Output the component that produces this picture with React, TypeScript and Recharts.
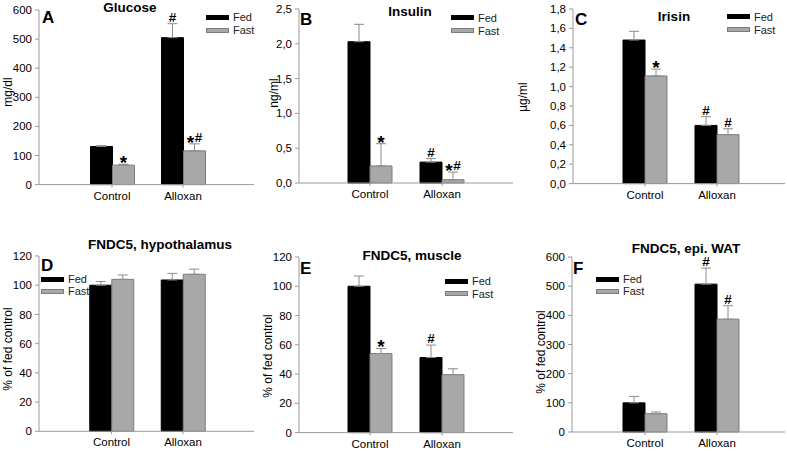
import React from 'react';
import { BarChart, Bar, XAxis, YAxis, ErrorBar, LabelList } from 'recharts';

const groups = ['Control', 'Alloxan'];

// A - glucose (mg/dl)
const glucoseFed = [131, 505];
const glucoseFedErr = [3, 48];
const glucoseFast = [67, 116];
const glucoseFastErr = [3, 24];
const glucoseFedMarks = ['', '#'];
const glucoseFastMarks = ['*', '*#'];
const glucoseTicks = [0, 100, 200, 300, 400, 500, 600];

// B - insulin (ng/ml)
const insulinFed = [2.03, 0.3];
const insulinFedErr = [0.25, 0.05];
const insulinFast = [0.245, 0.047];
const insulinFastErr = [0.32, 0.11];
const insulinFedMarks = ['', '#'];
const insulinFastMarks = ['*', '*#'];
const insulinTicks = [0, 0.5, 1, 1.5, 2, 2.5];

// C - irisin (µg/ml)
const irisinFed = [1.48, 0.6];
const irisinFedErr = [0.09, 0.09];
const irisinFast = [1.11, 0.505];
const irisinFastErr = [0.07, 0.06];
const irisinFedMarks = ['', '#'];
const irisinFastMarks = ['*', '#'];
const irisinTicks = [0, 0.2, 0.4, 0.6, 0.8, 1, 1.2, 1.4, 1.6, 1.8];

// D - FNDC5 hypothalamus (% of fed control)
const hypoFed = [100, 103.6];
const hypoFedErr = [2.5, 4.5];
const hypoFast = [104, 107.5];
const hypoFastErr = [3, 3.5];
const hypoFedMarks = ['', ''];
const hypoFastMarks = ['', ''];

// E - FNDC5 muscle
const muscleFed = [100, 51.3];
const muscleFedErr = [7, 8.5];
const muscleFast = [54, 39.6];
const muscleFastErr = [3.5, 4];
const muscleFedMarks = ['', '#'];
const muscleFastMarks = ['*', ''];
const pctTicks = [0, 20, 40, 60, 80, 100, 120];

// F - FNDC5 epi. WAT
const watFed = [100, 507];
const watFedErr = [22, 55];
const watFast = [62.7, 387];
const watFastErr = [6, 46];
const watFedMarks = ['', '#'];
const watFastMarks = ['', '#'];

const FONT = 'Arial, "Liberation Sans", Helvetica, sans-serif';
const AXIS = '#9a9a9a';
const FAST_FILL = '#a8a8a8';
const FAST_STROKE = '#7c7c7c';

const panels = [
  {
    letter: 'A', title: 'Glucose', unit: 'mg/dl',
    fed: glucoseFed, fedErr: glucoseFedErr, fast: glucoseFast, fastErr: glucoseFastErr,
    fedMarks: glucoseFedMarks, fastMarks: glucoseFastMarks, ticks: glucoseTicks, decimals: 0,
    axisX: 39, top: 9.7, bottom: 184.3, w: 215, c1: 73, c2: 144,
    titleAt: [130, 7], letterAt: [42, 9], unitAt: [7.5, 92], legendAt: [206, 17, 30],
  },
  {
    letter: 'B', title: 'Insulin', unit: 'ng/ml',
    fed: insulinFed, fedErr: insulinFedErr, fast: insulinFast, fastErr: insulinFastErr,
    fedMarks: insulinFedMarks, fastMarks: insulinFastMarks, ticks: insulinTicks, decimals: 1,
    axisX: 299, top: 9.3, bottom: 183.3, w: 214, c1: 71, c2: 143,
    titleAt: [410, 11], letterAt: [300, 11], unitAt: [273.5, 93], legendAt: [451, 17.5, 30.5],
  },
  {
    letter: 'C', title: 'Irisin', unit: 'µg/ml',
    fed: irisinFed, fedErr: irisinFedErr, fast: irisinFast, fastErr: irisinFastErr,
    fedMarks: irisinFedMarks, fastMarks: irisinFastMarks, ticks: irisinTicks, decimals: 1,
    axisX: 573, top: 8.7, bottom: 183.3, w: 212, c1: 72, c2: 144,
    titleAt: [674, 16], letterAt: [575, 11], unitAt: [523, 97], legendAt: [727, 16.5, 29.5],
  },
  {
    letter: 'D', title: 'FNDC5, hypothalamus', unit: '% of fed control',
    fed: hypoFed, fedErr: hypoFedErr, fast: hypoFast, fastErr: hypoFastErr,
    fedMarks: hypoFedMarks, fastMarks: hypoFastMarks, ticks: pctTicks, decimals: 0,
    axisX: 39, top: 256, bottom: 431.3, w: 215, c1: 72.5, c2: 144,
    titleAt: [160, 244], letterAt: [41, 257], unitAt: [7.5, 349], legendAt: [41, 279, 291],
  },
  {
    letter: 'E', title: 'FNDC5, muscle', unit: '% of fed control',
    fed: muscleFed, fedErr: muscleFedErr, fast: muscleFast, fastErr: muscleFastErr,
    fedMarks: muscleFedMarks, fastMarks: muscleFastMarks, ticks: pctTicks, decimals: 0,
    axisX: 299, top: 256.7, bottom: 432.3, w: 214, c1: 71, c2: 143,
    titleAt: [412, 255], letterAt: [300, 260], unitAt: [268, 356], legendAt: [445, 281, 293.5],
  },
  {
    letter: 'F', title: 'FNDC5, epi. WAT', unit: '% of fed control',
    fed: watFed, fedErr: watFedErr, fast: watFast, fastErr: watFastErr,
    fedMarks: watFedMarks, fastMarks: watFastMarks, ticks: glucoseTicks, decimals: 0,
    axisX: 572, top: 257.3, bottom: 432.3, w: 213, c1: 73, c2: 145,
    titleAt: [686, 247.5], letterAt: [573, 260], unitAt: [541, 352], legendAt: [596, 279, 291],
  },
];

const markRenderer = (marks: string[], values: number[], errs: number[]) => (props: any) => {
  const vb = props.viewBox && props.viewBox.width !== undefined ? props.viewBox : props;
  const { x, y, width, height } = vb;
  const i = props.index;
  const m = marks[i];
  if (!m) return null;
  const errPx = (Math.abs(height) * errs[i]) / values[i];
  const errTop = y - errPx;
  const chars = m.split('');
  const ws = chars.map(() => 8);
  const total = ws.reduce((a, b) => a + b, 0);
  let cx = x + width / 2 - total / 2;
  return (
    <g>
      {chars.map((c, k) => {
        const w = ws[k];
        const el = (
          <text
            key={k}
            x={cx + w / 2}
            y={c === '*' ? errTop + 5 : errTop - 2}
            textAnchor="middle"
            fontFamily={FONT}
            fontSize={c === '*' ? 19 : 13.5}
            fontWeight="bold"
            fill="#000"
          >
            {c}
          </text>
        );
        cx += w;
        return el;
      })}
    </g>
  );
};

const PanelChart = ({ p }: { p: any }) => {
  const data = groups.map((g, i) => ({
    group: g,
    fed: p.fed[i],
    fedErr: [0, p.fedErr[i]],
    fedMark: p.fedMarks[i],
    fast: p.fast[i],
    fastErr: [0, p.fastErr[i]],
    fastMark: p.fastMarks[i],
  }));
  const band = p.c2 - p.c1;
  const padL = p.c1 - band / 2;
  const padR = p.w - (p.c2 + band / 2);
  const plotH = p.bottom - p.top;
  const max = p.ticks[p.ticks.length - 1];
  const fmt = (v: number) => (p.decimals ? v.toFixed(p.decimals).replace('.', ',') : String(v));
  return (
    <div style={{ position: 'absolute', left: p.axisX - 40, top: p.top - 10 }}>
      <BarChart
        width={40 + p.w + 4}
        height={10 + plotH + 25}
        data={data}
        margin={{ top: 10, right: 4, bottom: 5, left: 0 }}
        barCategoryGap={14}
        barGap={0}
      >
        <XAxis
          dataKey="group"
          stroke={AXIS}
          tickSize={3}
          tickMargin={4}
          interval={0}
          height={20}
          padding={{ left: padL, right: padR }}
          tick={{ fill: '#000', fontSize: 11.5, fontFamily: FONT }}
        />
        <YAxis
          type="number"
          domain={[0, max]}
          ticks={p.ticks}
          interval={0}
          width={40}
          stroke={AXIS}
          tickSize={4}
          tickMargin={3}
          tickFormatter={fmt}
          tick={{ fill: '#000', fontSize: 11.5, fontFamily: FONT }}
        />
        <Bar dataKey="fed" fill="#000" stroke="#000" isAnimationActive={false}>
          <ErrorBar dataKey="fedErr" stroke="#8c8c8c" strokeWidth={1} width={5} />
          <LabelList dataKey="fedMark" content={markRenderer(p.fedMarks, p.fed, p.fedErr)} />
        </Bar>
        <Bar dataKey="fast" fill={FAST_FILL} stroke={FAST_STROKE} isAnimationActive={false}>
          <ErrorBar dataKey="fastErr" stroke="#8c8c8c" strokeWidth={1} width={5} />
          <LabelList dataKey="fastMark" content={markRenderer(p.fastMarks, p.fast, p.fastErr)} />
        </Bar>
      </BarChart>
    </div>
  );
};

const LegendBox = ({ x, y, label, fill, stroke }: any) => (
  <>
    <div
      style={{
        position: 'absolute', left: x, top: y - 2.5, width: 23, height: 5,
        background: fill, border: `1px solid ${stroke}`, boxSizing: 'border-box',
      }}
    />
    <div
      style={{
        position: 'absolute', left: x + 27, top: y - 7, fontSize: 11, lineHeight: '14px',
        fontFamily: FONT, color: '#222',
      }}
    >
      {label}
    </div>
  </>
);

const PanelText = ({ p }: { p: any }) => (
  <>
    <div
      style={{
        position: 'absolute', left: p.titleAt[0], top: p.titleAt[1], transform: 'translate(-50%, -50%)',
        fontFamily: FONT, fontWeight: 'bold', fontSize: 13.5, lineHeight: '15px', whiteSpace: 'nowrap', color: '#000',
      }}
    >
      {p.title}
    </div>
    <div
      style={{
        position: 'absolute', left: p.letterAt[0], top: p.letterAt[1], fontFamily: FONT,
        fontWeight: 'bold', fontSize: 17, lineHeight: '17px', color: '#000',
      }}
    >
      {p.letter}
    </div>
    <div
      style={{
        position: 'absolute', left: p.unitAt[0], top: p.unitAt[1],
        transform: 'translate(-50%, -50%) rotate(-90deg)', fontFamily: FONT, fontSize: 12,
        whiteSpace: 'nowrap', color: '#000',
      }}
    >
      {p.unit}
    </div>
    <LegendBox x={p.legendAt[0]} y={p.legendAt[1]} label="Fed" fill="#000" stroke="#000" />
    <LegendBox x={p.legendAt[0]} y={p.legendAt[2]} label="Fast" fill={FAST_FILL} stroke={FAST_STROKE} />
  </>
);

export default function App() {
  return (
    <div
      style={{
        position: 'absolute', left: 0, top: 0, width: 787, height: 451,
        background: '#fff', overflow: 'hidden',
      }}
    >
      {panels.map((p) => (
        <PanelChart key={p.letter} p={p} />
      ))}
      {panels.map((p) => (
        <PanelText key={'t' + p.letter} p={p} />
      ))}
    </div>
  );
}
